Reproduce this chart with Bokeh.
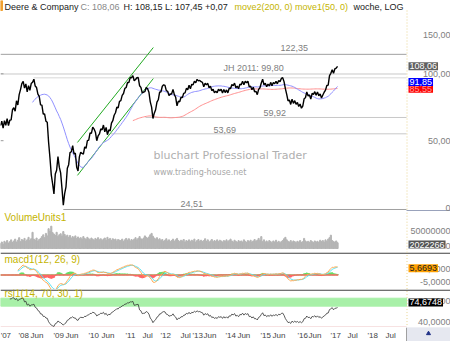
import numpy as np
import pandas as pd
from bokeh.plotting import figure
from bokeh.layouts import column
from bokeh.models import Range1d, Label, LogScale
from bokeh.core.properties import value
from bokeh.embed import file_html
from bokeh.resources import INLINE

# ---------------- data ----------------
start_date = "2007-06-26"          # first bar, bars every 14 days
close = [58.5, 61.2, 57.0, 61.5, 58.6, 62.8, 58.4, 61.8, 62.0, 68.9,
         70.4, 67.9, 75.6, 72.4, 80.6, 84.9, 90.3, 92.4, 86.2, 90.1,
         83.0, 88.5, 84.2, 90.4, 91.6, 94.5, 88.1, 86.7, 81.0, 79.2,
         72.5, 72.3, 65.8, 66.0, 61.2, 60.5, 49.2, 42.0, 35.1, 32.0,
         28.8, 35.4, 36.8, 42.4, 38.0, 35.8, 30.5, 25.6, 28.9, 31.0,
         37.6, 39.0, 44.2, 44.6, 47.5, 43.6, 43.9, 38.0, 36.5, 42.3,
         44.4, 43.8, 43.5, 46.9, 46.2, 50.0, 50.3, 54.2, 53.9, 57.5,
         56.4, 54.6, 50.0, 52.5, 53.6, 56.5, 55.9, 58.8, 54.8, 57.4,
         53.2, 55.9, 55.4, 60.0, 61.5, 65.1, 66.8, 70.7, 70.3, 75.2,
         75.7, 80.0, 81.5, 86.0, 86.8, 91.4, 91.3, 96.1, 96.0, 98.2,
         93.1, 94.3, 96.0, 96.2, 88.4, 86.9, 82.0, 82.7, 83.1, 86.9,
         85.6, 82.6, 74.8, 70.8, 62.9, 66.5, 68.9, 74.5, 76.4, 82.6,
         83.0, 87.9, 89.2, 88.7, 84.0, 83.4, 79.8, 80.9, 81.3, 85.1,
         80.6, 78.4, 71.8, 75.3, 74.8, 78.4, 78.1, 81.7, 82.1, 86.0,
         84.8, 88.8, 85.7, 89.7, 89.2, 92.5, 91.1, 94.4, 92.9, 93.4,
         92.1, 91.5, 87.4, 90.7, 89.2, 90.6, 86.5, 87.9, 84.0, 85.1,
         82.2, 83.6, 82.1, 85.2, 83.9, 85.2, 82.0, 85.0, 82.3, 84.6,
         82.1, 86.1, 85.7, 89.5, 88.3, 90.8, 86.6, 88.0, 85.6, 89.8,
         89.2, 92.5, 89.3, 92.6, 91.1, 92.6, 87.4, 88.0, 84.8, 87.0,
         83.0, 83.4, 80.6, 85.1, 86.5, 90.9, 94.6, 89.2, 90.7, 87.4,
         89.8, 88.2, 91.5, 88.4, 91.4, 90.2, 92.5, 90.1, 93.3, 92.2,
         95.3, 96.0, 92.2, 85.7, 80.8, 75.5, 76.2, 72.8, 76.9, 73.6,
         75.7, 72.9, 74.3, 71.3, 73.1, 70.0, 71.6, 77.2, 78.0, 82.8,
         79.5, 80.3, 76.9, 81.7, 80.8, 83.1, 80.0, 82.9, 79.6, 81.2,
         77.8, 80.3, 82.6, 84.4, 88.6, 89.0, 98.2, 100.5, 104.4, 100.6,
         105.3, 106.1, 108.06]
volume_m = [14, 18, 12, 20, 16, 22, 15, 19, 24, 17,
            21, 26, 18, 23, 30, 19, 25, 22, 28, 20,
            24, 31, 22, 27, 45, 26, 23, 29, 21, 25,
            28, 33, 38, 30, 42, 35, 55, 48, 62, 44,
            40, 36, 45, 33, 38, 41, 35, 47, 39, 34,
            37, 31, 36, 29, 33, 30, 35, 28, 32, 27,
            30, 26, 33, 28, 25, 31, 27, 24, 29, 26,
            23, 28, 25, 30, 24, 27, 22, 26, 29, 23,
            31, 25, 28, 22, 27, 24, 26, 21, 25, 23,
            22, 26, 20, 24, 28, 23, 27, 21, 25, 22,
            26, 30, 24, 28, 33, 27, 25, 29, 35, 31,
            28, 32, 38, 42, 34, 29, 26, 30, 24, 27,
            22, 25, 20, 23, 27, 21, 24, 19, 22, 26,
            20, 24, 28, 22, 19, 23, 21, 25, 18, 22,
            20, 24, 19, 23, 21, 26, 18, 22, 25, 20,
            23, 19, 22, 27, 20, 24, 18, 21, 25, 19,
            22, 20, 24, 19, 23, 21, 18, 22, 20, 24,
            19, 22, 26, 21, 18, 23, 20, 17, 22, 19,
            21, 18, 24, 20, 17, 22, 19, 23, 18, 21,
            25, 20, 23, 28, 22, 33, 19, 24, 18, 21,
            17, 22, 19, 16, 21, 18, 23, 17, 20, 16,
            19, 22, 27, 31, 24, 20, 18, 22, 17, 21,
            19, 16, 20, 18, 22, 17, 19, 28, 21, 18,
            20, 17, 22, 19, 16, 21, 18, 20, 17, 23,
            19, 22, 18, 24, 20, 26, 30, 37, 22, 19,
            18, 21, 16]

level_values = [122.35, 99.80, 95.9, 63.6, 53.69, 24.51]
level_start = ["2007-06-26", "2007-06-26", "2008-06-06", "2011-08-22", "2010-08-20", "2009-04-14"]
level_texts = ["122,35", "JH 2011: 99,80", "", "59,92", "53,69", "24,51"]

channel_start = ["2009-09-09", "2009-09-09"]
channel_end = ["2011-11-12", "2011-11-12"]
channel_y0 = [49.1, 34.9]
channel_y1 = [131.3, 95.2]

main_ticks = [150, 100, 50]
main_tick_labels = ["150,00", "100,00", "50,00"]

tick_dates = ["2007-06-28", "2008-01-01", "2008-05-06", "2009-01-02", "2009-05-07",
              "2010-01-03", "2010-05-18", "2011-01-25", "2011-07-21", "2012-01-26",
              "2012-08-22", "2012-12-27", "2013-04-20", "2013-12-06", "2014-04-10",
              "2014-12-07", "2015-04-12", "2015-12-29", "2016-04-23", "2016-12-09",
              "2017-06-06", "2018-01-01", "2018-07-08"]
tick_labels = ["'07", "'08", "Jun", "'09", "Jun", "'10", "Jun", "'11", "Jul", "'12",
               "Jul", "'13", "Jun", "'14", "Jun", "'15", "Jun", "'16", "Jun", "'17",
               "Jul", "'18", "Jul"]

# ---------------- derived series ----------------
DAY = 86400000.0
YEAR = 365.25 * DAY
t0 = pd.Timestamp(start_date).value / 1e6
dates = np.array([t0 + 14 * DAY * i for i in range(len(close))])
s = pd.Series(close, dtype=float)
ma50 = s.rolling(25).mean()
ma200 = s.rolling(100).mean()
ema_f = s.ewm(span=6, adjust=False).mean()
ema_s = s.ewm(span=13, adjust=False).mean()
macd = ema_f - ema_s
signal = macd.ewm(span=4.5, adjust=False).mean()
hist = macd - signal
macd[:13] = np.nan
signal[:13] = np.nan
hist[:15] = np.nan
d = s.diff()
gain = d.clip(lower=0).ewm(alpha=1 / 20, adjust=False).mean()
loss = (-d.clip(upper=0)).ewm(alpha=1 / 20, adjust=False).mean()
rsi = 100 - 100 / (1 + gain / loss)
rsi[:7] = np.nan


def ms(sdate):
    return pd.Timestamp(sdate).value / 1e6


# pixel helpers (layout only)
X_REF = ms("2008-01-01") - 18 / 34.9 * YEAR


def X(px):
    return X_REF + px / 34.9 * YEAR


def YM(py):
    return 100 * np.exp((73.3 - py) / 96.5)


W = 450
FONT = "Liberation Sans"
YEL = "#c4b400"
GRAY_T = "#808080"
xr = Range1d(X(0), X(W))


def make(h, y0, y1, log=False):
    kw = dict(width=W, height=h, x_range=xr, y_range=Range1d(y0, y1),
              x_axis_location=None, y_axis_location=None, toolbar_location=None,
              output_backend="svg", min_border=0, outline_line_color=None,
              background_fill_color="white", border_fill_color="white")
    if log:
        kw["y_axis_type"] = "log"
    p = figure(**kw)
    if log:
        p.y_scale = LogScale()
    p.grid.visible = False
    return p


def lab(p, x, y, text, color="#333333", size=9, align="left", font=FONT, bg=None, **kw):
    l = Label(x=x, y=y, text=text, text_color=color, text_font_size=f"{size}px",
              text_align=align, text_baseline="middle", text_font=font, **kw)
    if bg is not None:
        l.background_fill_color = bg
        l.padding = 1
    p.add_layout(l)


# ---------------- main panel ----------------
MH = 211
pm = make(MH, YM(MH), YM(0), log=True)
pm.quad(left=[X(0)], right=[X(2)], bottom=[YM(10)], top=[YM(0)], color="#f0a030")

# level lines
lx0 = [ms(v) for v in level_start]
pm.segment(x0=lx0, y0=level_values, x1=[X(406)] * len(level_values), y1=level_values,
           line_color=["#a0a0a0", "#c8c8c8", "#d8d8d8", "#c8c8c8", "#c8c8c8", "#a0a0a0"], line_width=1)
# channel
pm.segment(x0=[ms(v) for v in channel_start], y0=channel_y0,
           x1=[ms(v) for v in channel_end], y1=channel_y1, line_color="#22aa22", line_width=1)
# moving averages + price
pm.line(dates, ma200, line_color="#ff9090", line_width=1)
pm.line(dates, ma50, line_color="#9090ff", line_width=1)
pm.line(dates, close, line_color="black", line_width=1.4)

# level labels
lab(pm, X(280), YM(47), level_texts[0], GRAY_T)
lab(pm, X(223), YM(67), level_texts[1], GRAY_T)
lab(pm, X(263), YM(112), level_texts[3], GRAY_T)
lab(pm, X(213), YM(129), level_texts[4], GRAY_T)
lab(pm, X(180), YM(203), level_texts[5], GRAY_T)

# watermark
lab(pm, X(153), YM(155), "bluchart Professional Trader", "#b0b0b0", 11, font="DejaVu Sans")
lab(pm, X(153), YM(172), "www.trading-house.net", "#a8a8a8", 8, font="DejaVu Sans")

# title
lab(pm, X(4), YM(6), "Deere & Company", "#222222")
lab(pm, X(80), YM(6), "C: 108,06", "#888888")
lab(pm, X(123), YM(6), "H: 108,15 L: 107,45 +0,07", "#222222")
lab(pm, X(234), YM(6), "move2(200, 0) move1(50, 0)", YEL)
lab(pm, X(353), YM(6), "woche, LOG", "#222222")

# right scale area
pm.segment(x0=[X(406.5)], y0=[YM(10)], x1=[X(406.5)], y1=[YM(211)],
           line_color="#e8d490", line_width=1, line_dash="1 2")
for v, t in zip(main_ticks, main_tick_labels):
    lab(pm, X(450), v, t, GRAY_T, align="right")
lab(pm, X(445), YM(207), "0", GRAY_T)
lab(pm, X(408), 85.55, "85,55", "#ff9a9a", bg="#ff0000")
lab(pm, X(408), 91.85, "91,85", "white", bg="#0000ff")
lab(pm, X(408), 108.06, "108,06", "white", bg="#606060")
pm.segment(x0=[X(406)], y0=[YM(210.5)], x1=[X(450)], y1=[YM(210.5)], line_color="#334477", line_width=1)
# left ticks
pm.segment(x0=[X(0)] * 2, y0=[100, 50], x1=[X(3)] * 2, y1=[100, 50], line_color="#999999")

# ---------------- volume panel ----------------
VH = 41
vk = 0.36  # px per million
pv = make(VH, -(VH - 37) / vk, 37 / vk)
pv.vbar(x=dates, top=volume_m, bottom=0, width=14 * DAY * 0.85, color="#b4b4b4")
lab(pv, X(4), (37 - 6) / vk, "VolumeUnits1", YEL, 10)
lab(pv, X(450), 50, "50000000", GRAY_T, align="right")
lab(pv, X(450), (37 - 34) / vk, "0", GRAY_T, align="right")
lab(pv, X(408), (37 - 33) / vk, "2022266", "white", bg="#555555")
pv.segment(x0=[X(406.5)], y0=[-20], x1=[X(406.5)], y1=[200],
           line_color="#e8d490", line_width=1, line_dash="1 2")

# ---------------- MACD panel ----------------
MCH = 37
mk = 1.3
m_top = 5 + 16 / mk
m_bot = m_top - MCH / mk
pc = make(MCH, m_bot, m_top)
pc.segment(x0=[X(0)], y0=[m_top - 0.6 / mk], x1=[X(450)], y1=[m_top - 0.6 / mk], line_color="#404040", line_width=1.2)
pos = np.where(hist > 0, hist, 0)
neg = np.where(hist < 0, hist, 0)
pc.vbar(x=dates, top=pos, bottom=0, width=14 * DAY, color="#66dd66")
pc.vbar(x=dates, top=0, bottom=neg, width=14 * DAY, color="#ff6666")
pc.line(dates, signal, line_color="#55e0f0", line_width=1)
pc.line(dates, macd, line_color="#ffaa55", line_width=1)
lab(pc, X(4), m_top - 7 / mk, "macd1(12, 26, 9)", YEL, 10)
lab(pc, X(450), 5, "5,0000", GRAY_T, align="right")
lab(pc, X(450), -5, "-5,0000", GRAY_T, align="right")
lab(pc, X(408), 5.2, "5,6693", "#222222", bg="#ffa000")
pc.segment(x0=[X(406.5)], y0=[-50], x1=[X(406.5)], y1=[50],
           line_color="#e8d490", line_width=1, line_dash="1 2")

# ---------------- RSI panel ----------------
RH = 38
r_bot, r_top = 29.5, 101.5
pr = make(RH, r_bot, r_top)
rk = RH / (r_top - r_bot)
pr.segment(x0=[X(0)], y0=[r_top - 0.6 / rk], x1=[X(450)], y1=[r_top - 0.6 / rk], line_color="#404040", line_width=1.2)
pr.quad(left=[X(0)], right=[X(406)], bottom=[70], top=[85], color="#a8f0a8")
pr.segment(x0=[X(0)], y0=[30], x1=[X(406)], y1=[30], line_color="#e09090", line_width=1)
pr.line(dates, rsi, line_color="#333333", line_width=0.8)
lab(pr, X(4), r_top - 4 / rk, "rsi1(14, 70, 30, 1)", YEL, 10)
lab(pr, X(450), 80, "80,0000", GRAY_T, align="right")
lab(pr, X(450), 40, "40,0000", GRAY_T, align="right")
lab(pr, X(408), 77, "74,6748", "white", bg="black")
pr.segment(x0=[X(406.5)], y0=[0], x1=[X(406.5)], y1=[200],
           line_color="#e8d490", line_width=1, line_dash="1 2")

# ---------------- date strip ----------------
SH = 14
ps = make(SH, SH, 0)
ps.quad(left=[X(406)], right=[X(450)], bottom=[SH], top=[0], color="#e6e8f0")
ps.segment(x0=[X(406)], y0=[0], x1=[X(406)], y1=[SH], line_color="#a0a0a0")
ps.scatter(x=[X(428)], y=[6], marker="triangle", size=4, color="#223388")
ps.text(x=[ms(v) for v in tick_dates], y=[7.5] * len(tick_dates), text=tick_labels,
        text_font=value(FONT), text_font_size="8px", text_color="#444444",
        text_align="left", text_baseline="middle")

layout = column(pm, pv, pc, pr, ps, spacing=0)
open("out.html", "w").write(file_html(layout, INLINE))
